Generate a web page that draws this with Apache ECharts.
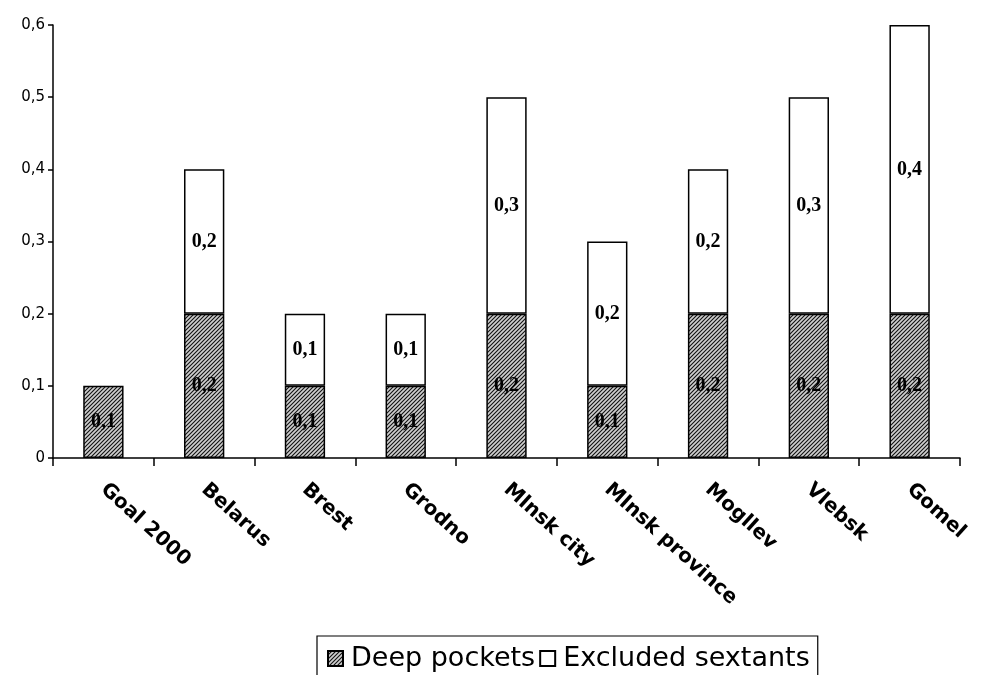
<!DOCTYPE html>
<html><head><meta charset="utf-8">
<script src="https://cdn.jsdelivr.net/npm/echarts@6/dist/echarts.min.js"></script>
<style>html,body{margin:0;padding:0;background:#fff}#c{width:982px;height:675px}</style>
</head><body><div id="c"></div>
<script>
const categories = ['Goal 2000','Belarus','Brest','Grodno','Mlnsk city','Mlnsk province','Mogllev','Vlebsk','Gomel'];
const deepPockets = [0.1,0.2,0.1,0.1,0.2,0.1,0.2,0.2,0.2];
const excludedSextants = [null,0.2,0.1,0.1,0.3,0.2,0.2,0.3,0.4];
const yTicks = [0,0.1,0.2,0.3,0.4,0.5,0.6];

function hatch(){
  const n=4;
  const c=document.createElement('canvas');c.width=n;c.height=n;
  const g=c.getContext('2d');
  g.fillStyle='#cfcfcf';g.fillRect(0,0,n,n);
  g.strokeStyle='#111';g.lineWidth=1.1;
  g.beginPath();
  g.moveTo(-1,n+1);g.lineTo(n+1,-1);
  g.moveTo(-1-n,n+1);g.lineTo(n+1-n,-1);
  g.moveTo(-1+n,n+1);g.lineTo(n+1+n,-1);
  g.stroke();
  return c;
}
const fmt=v=>String(v).replace('.',',');
const chart=echarts.init(document.getElementById('c'));
const lbl={show:true,position:'inside',formatter:p=>fmt(p.value),fontFamily:'Liberation Serif',fontWeight:'bold',fontSize:20,color:'#000'};
chart.setOption({
  animation:false,
  grid:{left:53,right:22,top:25,bottom:217},
  legend:{
    top:636,left:317,itemGap:4,itemWidth:15,itemHeight:15,icon:'rect',
    borderColor:'#000',borderWidth:1.2,borderRadius:0,padding:[9,8,14,10],
    textStyle:{fontFamily:'DejaVu Sans',fontSize:27,color:'#000',padding:[0,0,0,3]},
    data:['Deep pockets','Excluded sextants']
  },
  xAxis:{type:'category',data:categories,
    axisLine:{lineStyle:{color:'#000',width:1.5}},
    axisTick:{show:true,length:8,lineStyle:{color:'#000',width:1.5}},
    axisLabel:{rotate:-42,margin:29,fontFamily:'DejaVu Sans',fontWeight:'bold',fontSize:20,color:'#000'}
  },
  yAxis:{type:'value',min:0,max:0.6,interval:0.1,
    axisLine:{show:true,lineStyle:{color:'#000',width:1.5}},
    axisTick:{show:true,length:5,lineStyle:{color:'#000',width:1.5}},
    splitLine:{show:false},
    axisLabel:{formatter:v=>fmt(+v.toFixed(1)),fontFamily:'DejaVu Sans',fontSize:15,color:'#000',margin:8}
  },
  series:[
    {name:'Deep pockets',type:'bar',stack:'a',barWidth:'40%',data:deepPockets,
     itemStyle:{color:{image:hatch(),repeat:'repeat'},borderColor:'#000',borderWidth:1.5},label:lbl},
    {name:'Excluded sextants',type:'bar',stack:'a',barWidth:'40%',data:excludedSextants,
     itemStyle:{color:'#fff',borderColor:'#000',borderWidth:1.5},label:lbl}
  ]
});
</script></body></html>
